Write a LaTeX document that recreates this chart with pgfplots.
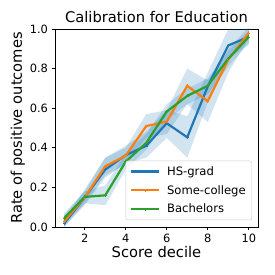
\documentclass[border=0pt]{standalone}
\usepackage{pgfplots}
\pgfplotsset{compat=1.18}
\usepackage{pgfplotstable}
\usepgfplotslibrary{fillbetween}
\usepackage{fontspec}
\setmainfont{DejaVu Sans}
\definecolor{c0}{HTML}{1F77B4}
\definecolor{c1}{HTML}{FF7F0E}
\definecolor{c2}{HTML}{2CA02C}
\pgfplotstableread{
x y lo hi
1 0.018 0.00 0.04
2 0.15 0.11 0.19
3 0.29 0.25 0.35
4 0.363 0.32 0.41
5 0.41 0.35 0.48
6 0.524 0.45 0.59
7 0.453 0.35 0.56
8 0.71 0.63 0.78
9 0.917 0.85 1.00
10 0.96 0.92 1.00
}\hs
\pgfplotstableread{
x y lo hi
1 0.028 0.00 0.06
2 0.15 0.12 0.18
3 0.307 0.26 0.35
4 0.36 0.32 0.40
5 0.51 0.45 0.57
6 0.532 0.47 0.59
7 0.713 0.62 0.80
8 0.636 0.53 0.74
9 0.845 0.78 0.90
10 0.98 0.95 1.01
}\sc
\pgfplotstableread{
x y lo hi
1 0.045 0.02 0.07
2 0.152 0.12 0.18
3 0.16 0.11 0.21
4 0.33 0.29 0.37
5 0.425 0.39 0.47
6 0.583 0.54 0.62
7 0.662 0.62 0.70
8 0.713 0.67 0.75
9 0.85 0.81 0.89
10 0.96 0.93 0.99
}\ba
\begin{document}
\begin{tikzpicture}
\begin{axis}[
  scale only axis, width=203pt, height=198pt,
  xmin=0.55, xmax=10.45, ymin=0, ymax=1,
  xtick={2,4,6,8,10}, ytick={0,0.2,0.4,0.6,0.8,1.0},
  yticklabel style={/pgf/number format/.cd,fixed,fixed zerofill,precision=1},
  /pgf/number format/assume math mode=true,
  tick align=outside, tick pos=left, major tick length=3.5pt,
  tick style={black, line width=0.6pt},
  ticklabel style={font=\fontsize{11.4}{12}\selectfont},
  title={Calibration for Education},
  title style={font=\fontsize{14.7}{16}\selectfont, yshift=-3pt},
  xlabel={Score decile}, ylabel={Rate of positive outcomes},
  label style={font=\fontsize{14.7}{16}\selectfont},
  xlabel style={yshift=3pt}, ylabel style={yshift=-2pt},
  axis line style={line width=0.6pt},
  legend style={font=\fontsize{11.6}{13}\selectfont, draw=black!20, rounded corners=2pt, fill=white, fill opacity=0.8, text opacity=1, draw opacity=1, at={(0.97,0.035)}, anchor=south east, row sep=4.5pt, inner xsep=4pt, inner ysep=3.5pt},
  legend cell align=left,
  legend image code/.code={\draw[mark repeat=2,mark phase=2,#1] plot coordinates {(0pt,0pt) (14pt,0pt) (28pt,0pt)}; \path (33pt,0pt);},
  every axis plot/.append style={line width=2.2pt, mark=+, mark size=1.5pt, mark options={line width=0.6pt}},
]
\addplot[name path=hsl, draw=none, mark=none, forget plot] table[x=x,y=lo]{\hs};
\addplot[name path=hsh, draw=none, mark=none, forget plot] table[x=x,y=hi]{\hs};
\addplot[c0, fill opacity=0.2, draw=none, mark=none, forget plot] fill between[of=hsl and hsh];
\addplot[name path=scl, draw=none, mark=none, forget plot] table[x=x,y=lo]{\sc};
\addplot[name path=sch, draw=none, mark=none, forget plot] table[x=x,y=hi]{\sc};
\addplot[c0, fill opacity=0.2, draw=none, mark=none, forget plot] fill between[of=scl and sch];
\addplot[name path=bal, draw=none, mark=none, forget plot] table[x=x,y=lo]{\ba};
\addplot[name path=bah, draw=none, mark=none, forget plot] table[x=x,y=hi]{\ba};
\addplot[c0, fill opacity=0.2, draw=none, mark=none, forget plot] fill between[of=bal and bah];
\addplot[c0] table[x=x,y=y]{\hs};
\addplot[c1] table[x=x,y=y]{\sc};
\addplot[c2] table[x=x,y=y]{\ba};
\legend{HS-grad, Some-college, Bachelors}
\end{axis}
\path[use as bounding box] (-55pt,-48pt) rectangle (220pt,227pt);
\end{tikzpicture}
\end{document}
